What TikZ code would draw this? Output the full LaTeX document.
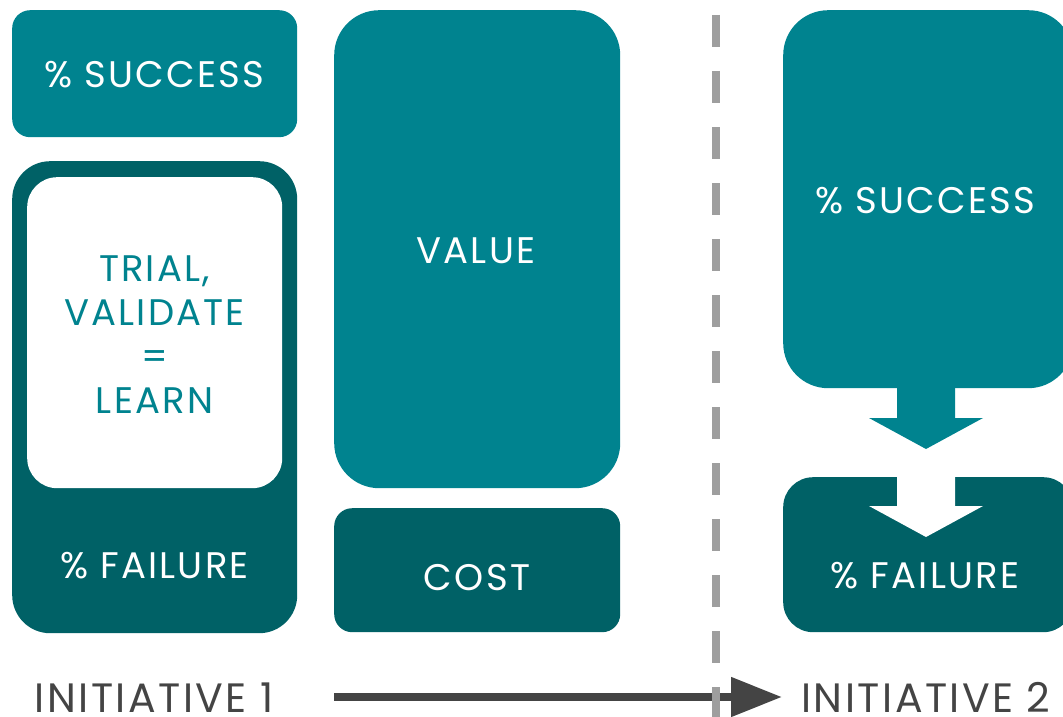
\documentclass[tikz,border=0pt]{standalone}
\usepackage{fontspec}
\setmainfont{Poppins}[LetterSpace=6]
\usetikzlibrary{arrows.meta,calc}
\definecolor{teal1}{HTML}{00838F}
\definecolor{teal2}{HTML}{006166}
\definecolor{dgray}{HTML}{444444}
\definecolor{lgray}{HTML}{9E9E9E}
\tikzset{
  box/.style={rectangle, fill=#1, draw=none, anchor=north west, inner sep=0pt},
  lbl/.style={anchor=base, inner sep=0pt, text=white, font=\fontsize{37}{44}\selectfont},
  tlbl/.style={lbl, text=teal1},
  glbl/.style={lbl, text=dgray, font=\fontsize{41}{48}\selectfont, text depth=0pt},
}
\begin{document}
\begin{tikzpicture}[x=1pt,y=-1pt]
\useasboundingbox (0,0) rectangle (1063,717);
% left column
\node[box=teal1, minimum width=285pt, minimum height=127pt, rounded corners=18pt] (s1) at (12,10) {};
\node[box=teal2, minimum width=285pt, minimum height=472pt, rounded corners=38pt] (f1) at (12,161) {};
\node[box=white, minimum width=255pt, minimum height=311pt, rounded corners=30pt] (w1) at (27,177) {};
\node[lbl] (s1t) at (154.5,88) {\% SUCCESS};
\node[tlbl] (t1) at (154.5,281) {TRIAL,};
\node[tlbl] (t2) at (154.5,325) {VALIDATE};
\node[tlbl] (t3) at (154.5,369) {=};
\node[tlbl] (t4) at (154.5,413) {LEARN};
\node[lbl] (f1t) at (154.5,578) {\% FAILURE};
% middle column
\node[box=teal1, minimum width=286pt, minimum height=478pt, rounded corners=45pt] (v) at (334,10) {};
\node[box=teal2, minimum width=286pt, minimum height=124pt, rounded corners=18pt] (c) at (334,508) {};
\node[lbl] (vt) at (476,263) {VALUE};
\node[lbl] (ct) at (477,590) {COST};
% right column
\node[box=teal1, minimum width=290pt, minimum height=378pt, rounded corners=45pt] (s2) at (783,10) {};
\node[box=teal2, minimum width=290pt, minimum height=155pt, rounded corners=30pt] (f2) at (783,477) {};
\fill[teal1] (897,380) -- (955,380) -- (955,418) -- (983,418) -- (926,449) -- (869,418) -- (897,418) -- cycle;
\fill[white] (897,470) -- (955,470) -- (955,506) -- (983,506) -- (926,537) -- (869,506) -- (897,506) -- cycle;
\node[lbl] (s2t) at (925,213) {\% SUCCESS};
\node[lbl] (f2t) at (925,588) {\% FAILURE};
% bottom
\node[glbl] (i1) at (154,712) {INITIATIVE 1};
\node[glbl] (i2) at (926,712) {INITIATIVE 2};
\coordinate (a0) at (334,697);
\coordinate (a1) at (782,697);
\draw[dgray, line width=8pt, -{Triangle[length=51pt, width=38pt]}] (a0) -- (a1);
% divider
\coordinate (d0) at (716,15);
\coordinate (d1) at (716,717);
\draw[lgray, line width=8pt, dash pattern=on 32pt off 24pt] (d0) -- (d1);
\end{tikzpicture}
\end{document}
